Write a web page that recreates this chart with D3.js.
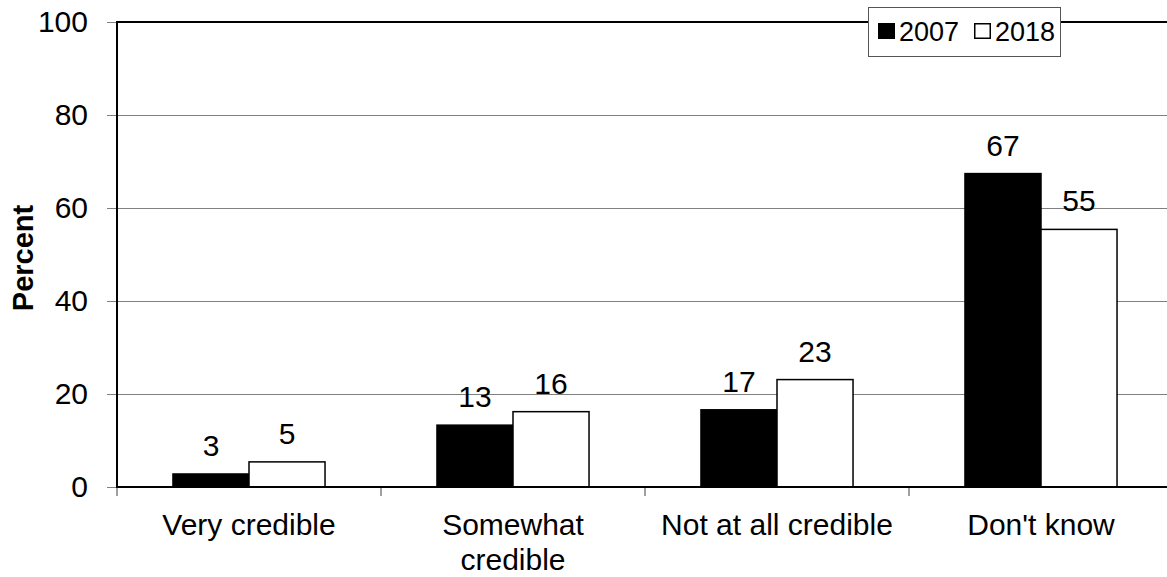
<!DOCTYPE html>
<html>
<head>
<meta charset="utf-8">
<script src="https://cdn.jsdelivr.net/npm/d3@7"></script>
<style>
  html, body { margin: 0; padding: 0; background: #fff; }
  svg { display: block; font-family: "Liberation Sans", Arial, sans-serif; }
</style>
</head>
<body>
<svg id="chart" width="1167" height="577"></svg>
<script>
const categories = ["Very credible", "Somewhat\ncredible", "Not at all credible", "Don't know"];
const seriesNames = ["2007", "2018"];
const values2007 = [2.8, 13.3, 16.6, 67.4];
const values2018 = [5.4, 16.2, 23.1, 55.4];
const yTicks = [0, 20, 40, 60, 80, 100];
const yTitle = "Percent";

(function () {
const seriesValues = [values2007, values2018];
const fills = ["#000000", "#ffffff"];

const svg = d3.select("#chart");
const pLeft = 117, pRight = 1173, pTop = 22, pBottom = 487;

const x0 = d3.scaleBand().domain(categories).range([pLeft, pRight])
  .paddingInner(0.424).paddingOuter(0.212);
const x1 = d3.scaleBand().domain(seriesNames).range([0, x0.bandwidth()]).padding(0);
const y = d3.scaleLinear().domain([0, 100]).range([pBottom, pTop]);

// gridlines
svg.append("g").selectAll("line").data(yTicks.filter(t => t > 0 && t < 100)).join("line")
  .attr("x1", pLeft).attr("x2", pRight)
  .attr("y1", d => y(d) + 0.5).attr("y2", d => y(d) + 0.5)
  .attr("stroke", "#808080").attr("stroke-width", 1);

// y axis ticks and labels
const yAxis = d3.axisLeft(y).tickValues(yTicks).tickSize(10).tickPadding(19);
const gy = svg.append("g").attr("transform", `translate(${pLeft},0)`).call(yAxis);
gy.select(".domain").remove();
gy.selectAll(".tick line").attr("stroke", "#808080").attr("stroke-width", 1);
gy.selectAll(".tick text").attr("font-size", 30).attr("fill", "#000")
  .attr("font-family", "'Liberation Sans', Arial, sans-serif");

// bottom category ticks at boundaries
const step = x0.step();
const boundaries = d3.range(categories.length + 1).map(i => pLeft + i * step);
svg.append("g").selectAll("line").data(boundaries).join("line")
  .attr("x1", d => d).attr("x2", d => d)
  .attr("y1", pBottom).attr("y2", pBottom + 9)
  .attr("stroke", "#808080").attr("stroke-width", 1.5);

// bars
const groups = svg.append("g").selectAll("g").data(categories).join("g")
  .attr("transform", d => `translate(${x0(d)},0)`);
groups.selectAll("rect").data((c, ci) => seriesNames.map((s, si) => ({ s, si, v: seriesValues[si][ci] })))
  .join("rect")
  .attr("x", d => x1(d.s))
  .attr("y", d => y(d.v))
  .attr("width", x1.bandwidth())
  .attr("height", d => y(0) - y(d.v))
  .attr("fill", d => fills[d.si])
  .attr("stroke", "#000").attr("stroke-width", 1.5);

// value labels
const fmt = d3.format(".0f");
groups.selectAll("text").data((c, ci) => seriesNames.map((s, si) => ({ s, si, v: seriesValues[si][ci] })))
  .join("text")
  .attr("x", d => x1(d.s) + x1.bandwidth() / 2)
  .attr("y", d => y(d.v) - 18)
  .attr("text-anchor", "middle")
  .attr("font-size", 30)
  .text(d => fmt(d.v));

// plot border (top, left, bottom)
svg.append("path")
  .attr("d", `M${pRight},${pTop}H${pLeft}V${pBottom}H${pRight}`)
  .attr("fill", "none").attr("stroke", "#000").attr("stroke-width", 2);

// category labels
categories.forEach(c => {
  const lines = c.split("\n");
  const t = svg.append("text")
    .attr("x", x0(c) + x0.bandwidth() / 2)
    .attr("y", 535)
    .attr("text-anchor", "middle")
    .attr("font-size", 30);
  lines.forEach((ln, i) => {
    t.append("tspan").attr("x", x0(c) + x0.bandwidth() / 2)
      .attr("dy", i === 0 ? 0 : 35).text(ln);
  });
});

// y title
svg.append("text")
  .attr("transform", `translate(33,258) rotate(-90)`)
  .attr("text-anchor", "middle")
  .attr("font-size", 29)
  .attr("font-weight", "bold")
  .text(yTitle);

// legend
const lg = svg.append("g");
lg.append("rect").attr("x", 868.5).attr("y", 7.5).attr("width", 192).attr("height", 49)
  .attr("fill", "#fff").attr("stroke", "#555").attr("stroke-width", 1);
const legendX = [878, 974];
seriesNames.forEach((s, i) => {
  lg.append("rect").attr("x", legendX[i] + 0.75).attr("y", 23.75)
    .attr("width", 15.5).attr("height", 14.5)
    .attr("fill", fills[i]).attr("stroke", "#000").attr("stroke-width", 1.5);
  lg.append("text").attr("x", legendX[i] + 21).attr("y", 41)
    .attr("font-size", 27).text(s);
});
})();
</script>
</body>
</html>
